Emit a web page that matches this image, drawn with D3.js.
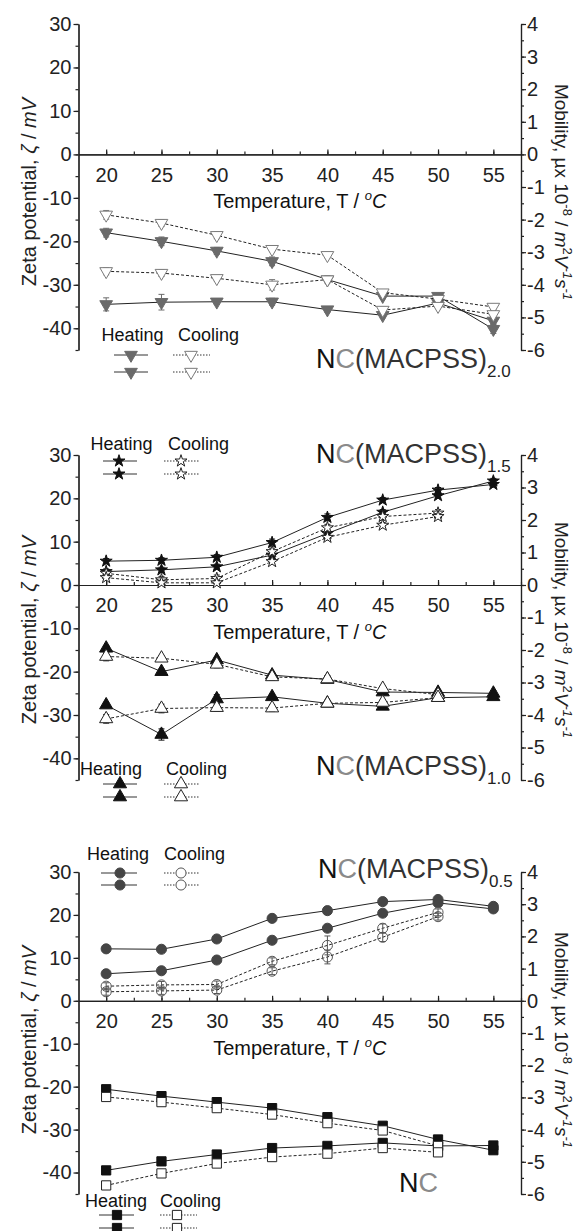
<!DOCTYPE html>
<html>
<head>
<meta charset="utf-8">
<script src="https://cdn.jsdelivr.net/npm/d3@7"></script>
<style>
  body { margin: 0; background: #fff; }
  text { font-family: "Liberation Sans", Arial, sans-serif; }
</style>
</head>
<body>
<div id="chart"></div>
<script>
// temperatures (x values)
var temps = [20, 25, 30, 35, 40, 45, 50, 55];
var tempsCool = [20, 25, 30, 35, 40, 45, 50];

var zetaTicks = [-40, -30, -20, -10, 0, 10, 20, 30];
var mobTicks = [-6, -5, -4, -3, -2, -1, 0, 1, 2, 3, 4];
var tempTicks = [20, 25, 30, 35, 40, 45, 50, 55];

// panel 1 : NC(MACPSS)2.0, down triangles
var p1HeatA = [-18.0, -20.0, -22.2, -24.6, -28.8, -32.6, -32.6, -40.2];
var p1HeatB = [-34.5, -34.0, -33.9, -33.9, -35.7, -37.0, -34.2, -38.3];
var p1CoolA = [-13.9, -15.8, -18.6, -21.8, -23.2, -31.8, -33.3, -35.1];
var p1CoolB = [-26.9, -27.3, -28.5, -30.0, -28.8, -35.8, -34.9, -36.8];
var p1HeatAErr = [1.0, 1.0, 0.8, 1.0, 0.8, 0.6, 0.6, 1.0];
var p1HeatBErr = [1.5, 1.8, 0.6, 0.8, 0.6, 0.6, 0.6, 0.8];
var p1CoolAErr = [1.0, 0.8, 0.8, 0.6, 0.6, 0.6, 0.6, 0.6];
var p1CoolBErr = [0.8, 0.8, 0.6, 1.2, 0.6, 0.6, 0.6, 0.6];

// panel 2 top : NC(MACPSS)1.5, stars
var p2HeatA = [5.5, 5.7, 6.4, 9.8, 15.6, 19.6, 21.9, 23.2];
var p2HeatB = [3.1, 3.5, 4.2, 6.9, 11.9, 16.8, 20.6, 24.0];
var p2CoolA = [2.7, 1.2, 1.5, 7.7, 13.2, 15.8, 16.6];
var p2CoolB = [1.7, 0.5, 0.5, 5.4, 11.0, 13.8, 15.8];
var p2HeatAErr = [0.6, 0.6, 0.6, 0.8, 0.8, 0.6, 0.6, 0.6];
var p2HeatBErr = [0.6, 0.6, 0.6, 0.8, 0.8, 0.6, 0.6, 0.6];
var p2CoolAErr = [0.8, 0.8, 0.8, 0.8, 0.8, 0.8, 0.8];
var p2CoolBErr = [0.6, 0.6, 0.6, 0.6, 0.6, 0.6, 0.6];

// panel 2 bottom : NC(MACPSS)1.0, up triangles
var p2bHeatA = [-14.6, -20.0, -17.3, -20.8, -21.8, -24.7, -24.8, -25.0];
var p2bHeatB = [-27.7, -34.5, -26.3, -25.8, -27.3, -28.0, -26.0, -25.8];
var p2bCoolA = [-16.5, -16.9, -18.3, -21.2, -21.7, -23.9, -25.3];
var p2bCoolB = [-30.9, -28.5, -28.3, -28.4, -27.3, -27.1, -26.0];
var p2bHeatAErr = [0.6, 0.6, 0.6, 0.6, 0.6, 0.6, 0.6, 0.6];
var p2bHeatBErr = [0.6, 1.3, 1.0, 0.6, 0.6, 0.6, 0.6, 0.6];
var p2bCoolAErr = [1.0, 0.6, 0.8, 0.8, 0.8, 0.6, 0.6];
var p2bCoolBErr = [1.0, 1.0, 0.8, 0.8, 0.6, 0.6, 0.8];

// panel 3 top : NC(MACPSS)0.5, circles
var p3HeatA = [12.1, 12.0, 14.4, 19.2, 21.0, 23.1, 23.6, 22.0];
var p3HeatB = [6.3, 7.0, 9.5, 14.1, 16.9, 20.4, 22.8, 21.4];
var p3CoolA = [3.4, 3.7, 3.8, 9.2, 12.9, 16.9, 20.6];
var p3CoolB = [2.1, 2.3, 2.5, 6.9, 10.2, 14.8, 19.6];
var p3HeatAErr = [0.5, 0.5, 0.5, 0.5, 0.5, 0.5, 0.8, 0.6];
var p3HeatBErr = [0.5, 0.5, 0.5, 0.5, 0.5, 0.5, 0.8, 0.6];
var p3CoolAErr = [0.8, 0.8, 0.8, 0.8, 2.2, 1.0, 0.8];
var p3CoolBErr = [0.8, 0.8, 0.8, 0.8, 1.6, 1.0, 0.8];

// panel 3 bottom : NC, squares
var p3bHeatA = [-20.6, -22.2, -23.6, -25.0, -27.1, -29.1, -32.3, -34.8];
var p3bHeatB = [-39.5, -37.4, -35.8, -34.3, -33.8, -33.1, -33.8, -33.7];
var p3bCoolA = [-22.4, -23.6, -25.0, -26.5, -28.5, -30.2, -33.8];
var p3bCoolB = [-43.0, -40.2, -37.9, -36.4, -35.6, -34.3, -35.3];
var p3bHeatAErr = [0.6, 0.6, 0.6, 0.6, 0.6, 0.6, 0.6, 0.6];
var p3bHeatBErr = [0.6, 0.6, 0.6, 0.6, 0.6, 0.6, 0.6, 0.6];
var p3bCoolAErr = [0.8, 0.8, 0.8, 0.8, 0.8, 0.8, 0.8];
var p3bCoolBErr = [0.8, 0.8, 0.8, 0.8, 0.8, 0.8, 0.8];

var W = 579, H = 1231;
var left = 78.5, right = 521;

var svg = d3.select("#chart").append("svg")
    .attr("width", W)
    .attr("height", H);

function toPoints(ts, vs, es) {
    return ts.map(function(t, i) { return {t: t, v: vs[i], e: es[i]}; });
}

function drawSeries(g, x, y, pts, st, heating) {
    var line = d3.line()
        .x(function(d) { return x(d.t); })
        .y(function(d) { return y(d.v); });

    g.append("path")
        .datum(pts)
        .attr("d", line)
        .attr("fill", "none")
        .attr("stroke", "#222")
        .attr("stroke-width", 1)
        .attr("stroke-dasharray", heating ? null : "3,2");

    var col = heating ? st.heatColor : st.coolColor;
    var eb = g.append("g").attr("stroke", col).attr("stroke-width", 1);
    pts.forEach(function(d) {
        var cx = x(d.t);
        eb.append("line").attr("x1", cx).attr("x2", cx)
            .attr("y1", y(d.v - d.e)).attr("y2", y(d.v + d.e));
        eb.append("line").attr("x1", cx - 3).attr("x2", cx + 3)
            .attr("y1", y(d.v - d.e)).attr("y2", y(d.v - d.e));
        eb.append("line").attr("x1", cx - 3).attr("x2", cx + 3)
            .attr("y1", y(d.v + d.e)).attr("y2", y(d.v + d.e));
    });

    g.selectAll(null)
        .data(pts)
        .enter().append("path")
        .attr("d", d3.symbol().type(st.symbol).size(st.size))
        .attr("transform", function(d) {
            return "translate(" + x(d.t) + "," + y(d.v) + ") rotate(" + st.rot + ")";
        })
        .attr("fill", heating ? st.heatColor : (st.openFill || "#fff"))
        .attr("stroke", col)
        .attr("stroke-width", 1);
}

function drawLegend(g, lg, st) {
    g.append("text").attr("x", lg.hx).attr("y", lg.ty)
        .attr("font-size", "18px").attr("fill", "#111").text("Heating");
    g.append("text").attr("x", lg.cx).attr("y", lg.ty)
        .attr("font-size", "18px").attr("fill", "#111").text("Cooling");
    lg.rows.forEach(function(ry) {
        g.append("line").attr("x1", lg.hLine[0]).attr("x2", lg.hLine[1])
            .attr("y1", ry).attr("y2", ry).attr("stroke", "#333");
        g.append("path").attr("d", d3.symbol().type(st.symbol).size(st.size))
            .attr("transform", "translate(" + lg.hm + "," + ry + ") rotate(" + st.rot + ")")
            .attr("fill", st.heatColor).attr("stroke", st.heatColor);
        g.append("line").attr("x1", lg.cLine[0]).attr("x2", lg.cLine[1])
            .attr("y1", ry).attr("y2", ry).attr("stroke", "#333")
            .attr("stroke-dasharray", "1.5,1.5");
        g.append("path").attr("d", d3.symbol().type(st.symbol).size(st.size))
            .attr("transform", "translate(" + lg.cm + "," + ry + ") rotate(" + st.rot + ")")
            .attr("fill", "#fff").attr("stroke", st.coolColor);
    });
}

function drawLabel(g, lb) {
    var t = g.append("text").attr("x", lb.x).attr("y", lb.y)
        .attr("font-size", "27px");
    t.append("tspan").attr("fill", "#111").text("N");
    t.append("tspan").attr("fill", "#8a8a8a").text("C");
    if (lb.sub) {
        t.append("tspan").attr("fill", "#333").text("(MACPSS)");
        t.append("tspan").attr("fill", "#222").attr("font-size", "17px")
            .attr("dy", 9).text(lb.sub);
    }
}

function drawPanel(cfg) {
    var x = d3.scaleLinear().domain([17.5, 57.5]).range([left, right]);
    var y = d3.scaleLinear().domain([-45, 30]).range([cfg.bottom, cfg.top]);
    var y2 = d3.scaleLinear().domain([-6, 4]).range([cfg.bottom, cfg.top]);

    var g = svg.append("g");

    // left axis
    g.append("g").attr("transform", "translate(" + left + ",0)")
        .call(d3.axisLeft(y).tickValues(d3.range(-45, 31, 5)).tickSize(3).tickSizeOuter(0).tickFormat(""));
    g.append("g").attr("class", "y axis").attr("transform", "translate(" + left + ",0)")
        .call(d3.axisLeft(y).tickValues(zetaTicks).tickSize(5).tickSizeOuter(0).tickPadding(2)
            .tickFormat(function(d) { return String(d); }));

    // right axis (mobility)
    g.append("g").attr("transform", "translate(" + right + ",0)")
        .call(d3.axisRight(y2).tickValues(d3.range(-6, 4.01, 0.5)).tickSize(3).tickSizeOuter(0).tickFormat(""));
    g.append("g").attr("class", "y2 axis").attr("transform", "translate(" + right + ",0)")
        .call(d3.axisRight(y2).tickValues(mobTicks).tickSize(5).tickSizeOuter(0).tickPadding(1)
            .tickFormat(function(d) { return String(d); }));

    // x axis on the zero line, ticks pointing up, labels below
    g.append("g").attr("transform", "translate(0," + y(0) + ")")
        .call(d3.axisBottom(x).tickValues(d3.range(20, 57.6, 2.5)).tickSizeInner(-3).tickSizeOuter(0).tickFormat(""));
    g.append("g").attr("class", "x axis").attr("transform", "translate(0," + y(0) + ")")
        .call(d3.axisBottom(x).tickValues(tempTicks).tickSizeInner(-5).tickSizeOuter(0).tickPadding(13)
            .tickFormat(function(d) { return String(d); }));

    g.selectAll(".domain, .tick line").attr("stroke", "#222").attr("stroke-width", 1.2);
    g.selectAll(".tick text").attr("font-size", "20px").attr("fill", "#222")
        .attr("font-family", "Liberation Sans, Arial, sans-serif");

    // axis titles
    var lt = g.append("text")
        .attr("transform", "translate(36," + cfg.titleY + ") rotate(-90)")
        .attr("text-anchor", "middle").attr("font-size", "20px").attr("fill", "#222");
    lt.append("tspan").text("Zeta potential, ");
    lt.append("tspan").attr("font-style", "italic").text("\u03B6");
    lt.append("tspan").text(" / ");
    lt.append("tspan").attr("font-style", "italic").text("mV");

    var rt = g.append("text")
        .attr("transform", "translate(555," + cfg.titleY + ") rotate(90)")
        .attr("text-anchor", "middle").attr("font-size", "19px").attr("fill", "#222");
    rt.append("tspan").text("Mobility, \u00B5x 10");
    rt.append("tspan").attr("font-size", "13px").attr("dy", -8).text("-8");
    rt.append("tspan").attr("dy", 8).text(" / ");
    rt.append("tspan").attr("font-style", "italic").text("m");
    rt.append("tspan").attr("font-size", "13px").attr("dy", -8).text("2");
    rt.append("tspan").attr("font-style", "italic").attr("dy", 8).text("V");
    rt.append("tspan").attr("font-size", "13px").attr("font-style", "italic").attr("dy", -8).text("-1");
    rt.append("tspan").attr("font-style", "italic").attr("dy", 8).text("s");
    rt.append("tspan").attr("font-size", "13px").attr("font-style", "italic").attr("dy", -8).text("-1");

    var tt = g.append("text")
        .attr("x", (left + right) / 2).attr("y", y(0) + 54)
        .attr("text-anchor", "middle").attr("font-size", "20px").attr("fill", "#111");
    tt.append("tspan").text("Temperature, T / ");
    tt.append("tspan").attr("font-size", "13px").attr("font-style", "italic").attr("dy", -8).text("o");
    tt.append("tspan").attr("font-style", "italic").attr("dy", 8).text("C");

    cfg.groups.forEach(function(grp) {
        var st = grp.style;
        var dg = g.append("g");
        drawSeries(dg, x, y, toPoints(temps, grp.heatA, grp.heatAErr), st, true);
        drawSeries(dg, x, y, toPoints(temps, grp.heatB, grp.heatBErr), st, true);
        drawSeries(dg, x, y, toPoints(grp.coolT, grp.coolA, grp.coolAErr), st, false);
        drawSeries(dg, x, y, toPoints(grp.coolT, grp.coolB, grp.coolBErr), st, false);
        drawLegend(g, grp.legend, st);
        drawLabel(g, grp.label);
    });
}

var triDown = {symbol: d3.symbolTriangle, size: 70, rot: 180, heatColor: "#6a6a6a", coolColor: "#7a7a7a"};
var star = {symbol: d3.symbolStar, size: 45, rot: 0, heatColor: "#111", coolColor: "#222"};
var triUp = {symbol: d3.symbolTriangle, size: 75, rot: 0, heatColor: "#111", coolColor: "#222"};
var circ = {symbol: d3.symbolCircle, size: 80, rot: 0, heatColor: "#454545", coolColor: "#555", openFill: "none"};
var sq = {symbol: d3.symbolSquare, size: 85, rot: 0, heatColor: "#111", coolColor: "#222"};

drawPanel({
    top: 24, bottom: 350, titleY: 192,
    groups: [{
        style: triDown, coolT: temps,
        heatA: p1HeatA, heatB: p1HeatB, coolA: p1CoolA, coolB: p1CoolB,
        heatAErr: p1HeatAErr, heatBErr: p1HeatBErr, coolAErr: p1CoolAErr, coolBErr: p1CoolBErr,
        legend: {hx: 101.5, cx: 178, ty: 341, rows: [355, 372], hLine: [114, 148], hm: 131, cLine: [173, 210], cm: 191},
        label: {x: 316, y: 368, sub: "2.0"}
    }]
});

drawPanel({
    top: 455, bottom: 780, titleY: 630,
    groups: [{
        style: star, coolT: tempsCool,
        heatA: p2HeatA, heatB: p2HeatB, coolA: p2CoolA, coolB: p2CoolB,
        heatAErr: p2HeatAErr, heatBErr: p2HeatBErr, coolAErr: p2CoolAErr, coolBErr: p2CoolBErr,
        legend: {hx: 90.5, cx: 168, ty: 450, rows: [461, 474], hLine: [103, 137], hm: 119, cLine: [164, 199], cm: 181},
        label: {x: 316, y: 463, sub: "1.5"}
    }, {
        style: triUp, coolT: tempsCool,
        heatA: p2bHeatA, heatB: p2bHeatB, coolA: p2bCoolA, coolB: p2bCoolB,
        heatAErr: p2bHeatAErr, heatBErr: p2bHeatBErr, coolAErr: p2bCoolAErr, coolBErr: p2bCoolBErr,
        legend: {hx: 80, cx: 166, ty: 775, rows: [784, 797], hLine: [103, 137], hm: 120, cLine: [164, 199], cm: 181},
        label: {x: 316, y: 775, sub: "1.0"}
    }]
});

drawPanel({
    top: 872, bottom: 1194, titleY: 1040,
    groups: [{
        style: circ, coolT: tempsCool,
        heatA: p3HeatA, heatB: p3HeatB, coolA: p3CoolA, coolB: p3CoolB,
        heatAErr: p3HeatAErr, heatBErr: p3HeatBErr, coolAErr: p3CoolAErr, coolBErr: p3CoolBErr,
        legend: {hx: 87, cx: 164, ty: 860, rows: [873, 885], hLine: [101, 137], hm: 120, cLine: [164, 199], cm: 181},
        label: {x: 318, y: 878, sub: "0.5"}
    }, {
        style: sq, coolT: tempsCool,
        heatA: p3bHeatA, heatB: p3bHeatB, coolA: p3bCoolA, coolB: p3bCoolB,
        heatAErr: p3bHeatAErr, heatBErr: p3bHeatBErr, coolAErr: p3bCoolAErr, coolBErr: p3bCoolBErr,
        legend: {hx: 85, cx: 160, ty: 1207, rows: [1215, 1228], hLine: [99, 134], hm: 117, cLine: [160, 197], cm: 177},
        label: {x: 399, y: 1192, sub: null}
    }]
});
</script>
</body>
</html>
